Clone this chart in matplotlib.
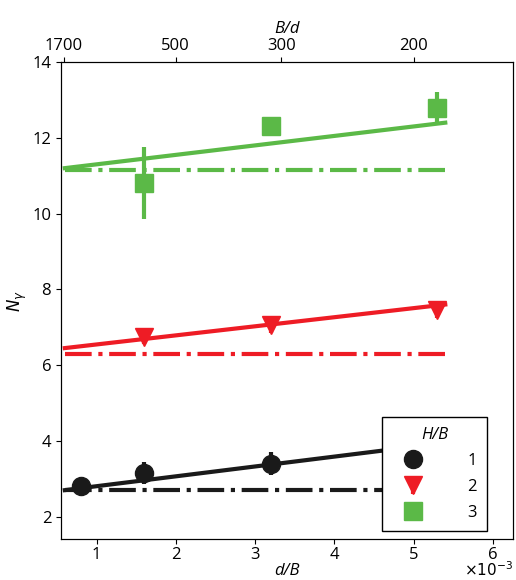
import numpy as np
import matplotlib.pyplot as plt

plt.rcParams['font.family'] = ['Open Sans', 'DejaVu Sans']
plt.rcParams['font.size'] = 12

# d/B (x1e-3) and N_gamma for each H/B
x1 = [0.8, 1.6, 3.2, 5.3]
y1 = [2.8, 3.15, 3.4, 3.9]
e1 = [0.25, 0.3, 0.3, 0.3]
x2 = [1.6, 3.2, 5.3]
y2 = [6.75, 7.05, 7.45]
e2 = [0.2, 0.2, 0.2]
x3 = [1.6, 3.2, 5.3]
y3 = [10.8, 12.3, 12.8]
e3 = [0.95, 0.25, 0.4]
fit1 = [2.7, 3.95]
fit2 = [6.45, 7.6]
fit3 = [11.2, 12.4]
flat = [2.7, 6.3, 11.15]
xfit = [0.6, 5.4]
top_ticks = [1700, 500, 300, 200]

colors = ['#1a1a1a', '#ee1c25', '#5bb947']
markers = ['o', 'v', 's']

fig, ax = plt.subplots(figsize=(5.16, 5.8), dpi=100)
fig.subplots_adjust(left=0.118, right=0.995, bottom=0.07, top=0.893)

for x, y, e, fit, fl, c, m, lab in zip([x1, x2, x3], [y1, y2, y3], [e1, e2, e3],
                                       [fit1, fit2, fit3], flat, colors, markers, ['1', '2', '3']):
    ax.plot(xfit, fit, color=c, lw=3)
    ax.plot(xfit, [fl, fl], color=c, lw=3, ls='-.')
    ax.errorbar(x, y, yerr=e, fmt=m, color=c, ms=13, elinewidth=3, capsize=0, label=lab)

ax.set_xlim(0.55, 6.26)
ax.set_ylim(1.4, 14)
ax.set_yticks([2, 4, 6, 8, 10, 12, 14])
ax.set_xticks([1, 2, 3, 4, 5, 6])
ax.tick_params(axis='x', pad=2)
ax.set_xlabel('d/B', style='italic', labelpad=0)
ax.set_ylabel(r'$N_\gamma$', labelpad=2)
ax.text(1.0, -0.045, r'$\times10^{-3}$', transform=ax.transAxes, ha='right', va='top', fontsize=11)

top = ax.twiny()
top.set_xlim(ax.get_xlim())
top.set_xticks([1000.0 / b for b in top_ticks])
top.set_xticklabels([str(b) for b in top_ticks])
top.tick_params(axis='x', pad=2)
top.set_xlabel('B/d', style='italic', labelpad=4)

leg = ax.legend(title='H/B', loc='lower right', bbox_to_anchor=(0.96, 0.0), fancybox=False,
                edgecolor='black', framealpha=1, borderpad=0.6, labelspacing=0.6,
                handletextpad=2.0, handlelength=2.5)
leg.get_title().set_style('italic')
leg.get_frame().set_linewidth(1)

fig.savefig('out.png')
